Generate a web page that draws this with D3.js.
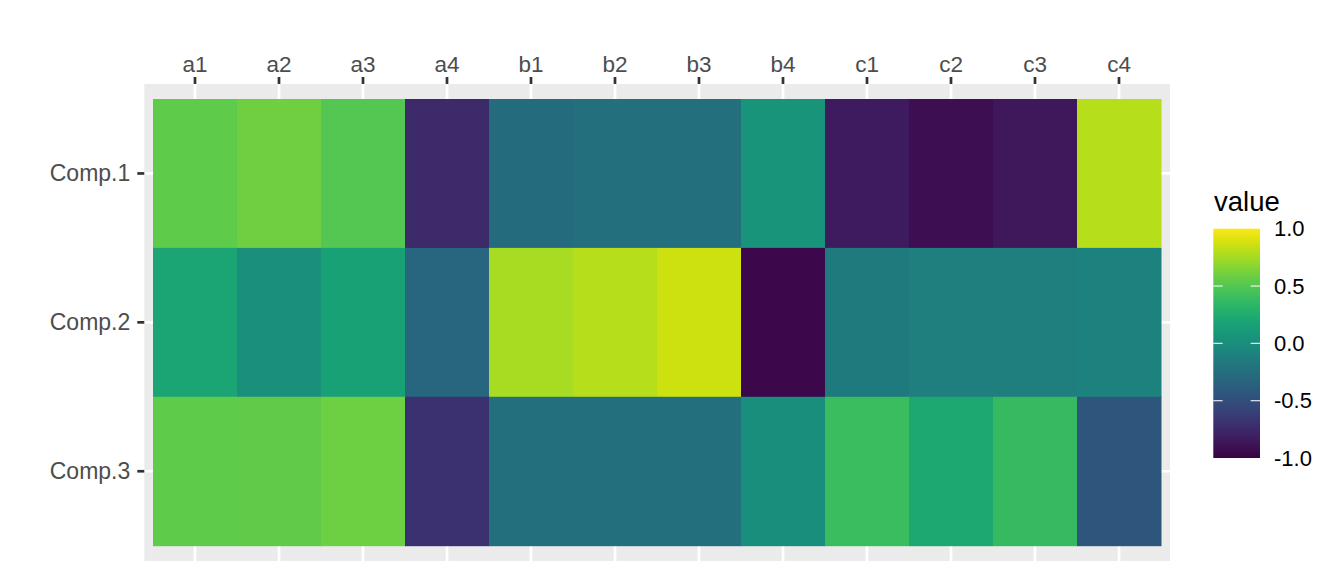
<!DOCTYPE html>
<html>
<head>
<meta charset="utf-8">
<script src="https://cdn.jsdelivr.net/npm/d3@7"></script>
<style>
  body { margin: 0; background: #fff; }
  svg text { font-family: "Liberation Sans", Arial, sans-serif; }
</style>
</head>
<body>
<svg id="chart" width="1344" height="576"></svg>
<script>
// categories
const cols = ['a1', 'a2', 'a3', 'a4', 'b1', 'b2', 'b3', 'b4', 'c1', 'c2', 'c3', 'c4'];
const rows = ['Comp.1', 'Comp.2', 'Comp.3'];

// values, one array per row
const comp1 = [0.54, 0.60, 0.50, -0.75, -0.28, -0.24, -0.24, 0.06, -0.84, -0.92, -0.86, 0.80];
const comp2 = [0.20, 0.02, 0.17, -0.32, 0.76, 0.80, 0.86, -0.96, -0.15, -0.12, -0.12, -0.09];
const comp3 = [0.54, 0.55, 0.59, -0.70, -0.24, -0.24, -0.24, 0.00, 0.40, 0.22, 0.38, -0.44];

const legendTicks = [1.0, 0.5, 0.0, -0.5, -1.0];

const values = [comp1, comp2, comp3];
const cells = [];
rows.forEach((r, i) => cols.forEach((c, j) => cells.push({ row: r, col: c, value: values[i][j] })));

const svg = d3.select('#chart');

// panel layout
const panel = { left: 144.3, right: 1170, top: 84, bottom: 561 };
const x = d3.scaleBand().domain(cols).range([153, 1161]);
const y = d3.scaleBand().domain(rows).range([99, 545.7]);

// viridis, nudged a little darker in red/blue to match the reference rendering
const ch = (v, g) => 255 * Math.pow(v / 255, g);
const viridisRef = t => {
    const c = d3.rgb(d3.interpolateViridis(t));
    return d3.rgb(ch(c.r, 1.12), ch(c.g, 1.04), ch(c.b, 1.2)).formatHex();
};
const color = d3.scaleSequential(viridisRef).domain([-1, 1]);
const fmt = v => d3.format('.1f')(v).replace('\u2212', '-');

// panel background + grid
svg.append('rect')
    .attr('x', panel.left).attr('y', panel.top)
    .attr('width', panel.right - panel.left).attr('height', panel.bottom - panel.top)
    .attr('fill', '#EBEBEB');

const grid = svg.append('g').attr('stroke', '#fff').attr('stroke-width', 2.7);
cols.forEach(c => {
    const cx = x(c) + x.bandwidth() / 2;
    grid.append('line').attr('x1', cx).attr('x2', cx).attr('y1', panel.top).attr('y2', panel.bottom);
});
rows.forEach(r => {
    const cy = y(r) + y.bandwidth() / 2;
    grid.append('line').attr('x1', panel.left).attr('x2', panel.right).attr('y1', cy).attr('y2', cy);
});

// tiles
svg.append('g').selectAll('rect').data(cells).join('rect')
    .attr('x', d => x(d.col))
    .attr('y', d => y(d.row))
    .attr('width', x.bandwidth() + 0.5)
    .attr('height', y.bandwidth() + 0.5)
    .attr('fill', d => color(d.value));

// top axis
const xAxis = svg.append('g').attr('transform', `translate(0,${panel.top})`)
    .call(d3.axisTop(x).tickSize(7).tickPadding(5));
xAxis.select('.domain').remove();
xAxis.selectAll('.tick line').attr('stroke', '#333').attr('stroke-width', 2.7);
xAxis.selectAll('.tick text').attr('fill', '#4D4D4D').style('font-size', '22.5px')
    .style('font-family', '"Liberation Sans", Arial, sans-serif');

// left axis
const yAxis = svg.append('g').attr('transform', `translate(${panel.left},0)`)
    .call(d3.axisLeft(y).tickSize(7).tickPadding(7));
yAxis.select('.domain').remove();
yAxis.selectAll('.tick line').attr('stroke', '#333').attr('stroke-width', 2.7);
yAxis.selectAll('.tick text').attr('fill', '#4D4D4D').style('font-size', '23px')
    .style('font-family', '"Liberation Sans", Arial, sans-serif');

// legend colourbar
const bar = { left: 1213.3, width: 46.7, top: 228.7, bottom: 458 };
const ly = d3.scaleLinear().domain([-1, 1]).range([bar.bottom, bar.top]);

const grad = svg.append('defs').append('linearGradient')
    .attr('id', 'vgrad').attr('x1', 0).attr('x2', 0).attr('y1', 1).attr('y2', 0);
d3.range(0, 1.0001, 0.05).forEach(t => {
    grad.append('stop').attr('offset', t).attr('stop-color', color(t * 2 - 1));
});

const legend = svg.append('g');
legend.append('text')
    .attr('x', 1214).attr('y', 210.5)
    .style('font-size', '27.5px').attr('fill', '#000')
    .text('value');

legend.append('rect')
    .attr('x', bar.left).attr('y', bar.top)
    .attr('width', bar.width).attr('height', bar.bottom - bar.top)
    .attr('fill', 'url(#vgrad)');

legend.selectAll('.lt').data(legendTicks).join('g').attr('class', 'lt')
    .each(function (d) {
        const g = d3.select(this);
        const yy = ly(d);
        if (Math.abs(d) < 1) {
            g.append('line').attr('x1', bar.left).attr('x2', bar.left + bar.width / 5)
                .attr('y1', yy).attr('y2', yy).attr('stroke', '#fff').attr('stroke-opacity', 0.85).attr('stroke-width', 1.2);
            g.append('line').attr('x1', bar.left + bar.width * 4 / 5).attr('x2', bar.left + bar.width)
                .attr('y1', yy).attr('y2', yy).attr('stroke', '#fff').attr('stroke-opacity', 0.85).attr('stroke-width', 1.2);
        }
        g.append('text')
            .attr('x', 1274).attr('y', yy).attr('dy', '0.35em')
            .style('font-size', '22px').attr('fill', '#000')
            .text(fmt(d));
    });
</script>
</body>
</html>
